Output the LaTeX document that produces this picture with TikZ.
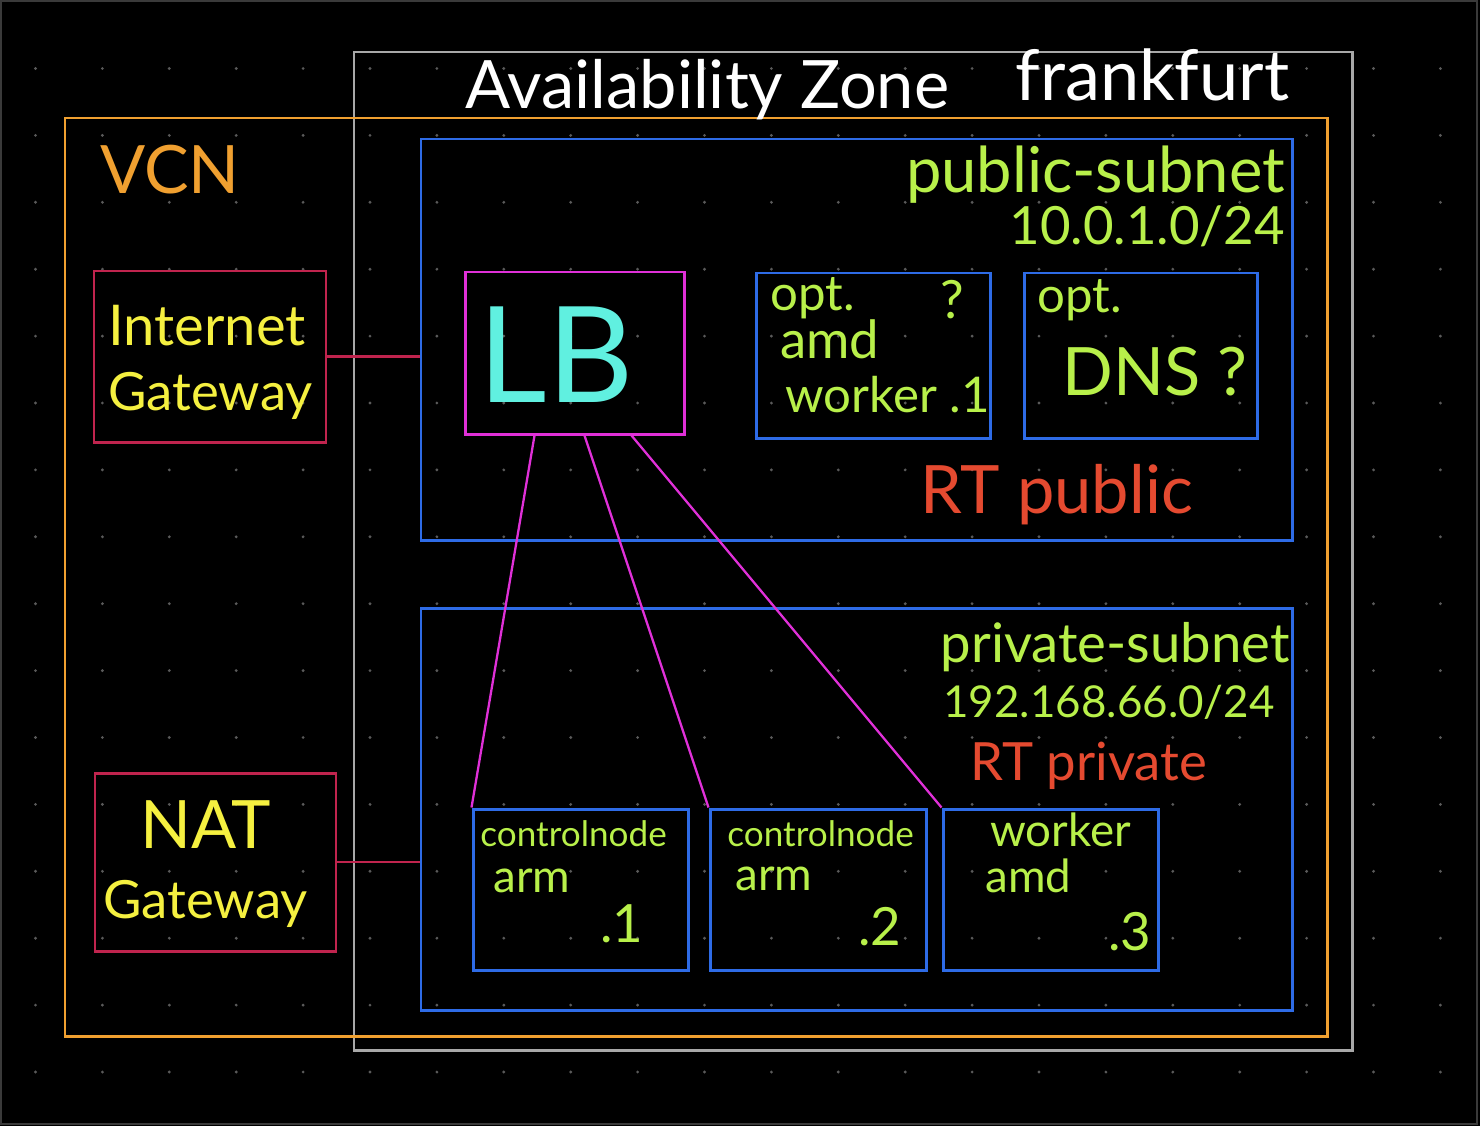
\documentclass[tikz,border=0pt]{standalone}
\usepackage{fontspec}
\setmainfont{Lato}
\usetikzlibrary{fit}
\definecolor{framecol}{HTML}{3A3A3A}
\definecolor{dotcol}{HTML}{5A5A5A}
\definecolor{azcol}{HTML}{A8A8A8}
\definecolor{vcncol}{HTML}{F0A030}
\definecolor{netcol}{HTML}{2E6BE6}
\definecolor{gwcol}{HTML}{C0244E}
\definecolor{lbcol}{HTML}{E030D8}
\definecolor{greencol}{HTML}{B8F04A}
\definecolor{yellowcol}{HTML}{F5F040}
\definecolor{cyancol}{HTML}{60F0E0}
\definecolor{redcol}{HTML}{E54A30}
\newcommand{\hf}[1]{\fontsize{#1}{#1}\selectfont}

\begin{document}
\begin{tikzpicture}[
  x=0.02cm, y=-0.02cm,
  box/.style={draw, line width=1.7pt, inner sep=0pt},
  azbox/.style={box, draw=azcol},
  vcnbox/.style={box, draw=vcncol},
  netbox/.style={box, draw=netcol},
  gwbox/.style={box, draw=gwcol},
  lbbox/.style={box, draw=lbcol},
  link/.style={line width=1.3pt},
  hand/.style={inner sep=0pt, anchor=base west},
  handr/.style={inner sep=0pt, anchor=base east},
  whitetxt/.style={hand, text=white},
  orangetxt/.style={hand, text=vcncol},
  greentxt/.style={hand, text=greencol},
  greentxtr/.style={handr, text=greencol},
  yellowtxt/.style={hand, text=yellowcol},
  redtxt/.style={hand, text=redcol},
]

% canvas
\useasboundingbox (0,0) rectangle (1480,1126);
\fill[black] (0,0) rectangle (1480,1126);
\foreach \i in {0,...,21}
  \foreach \j in {0,...,15}
    \fill[dotcol] ({35.5+66.9*\i},{68.5+66.9*\j}) circle[radius=0.9pt];
\draw[framecol, line width=1.5pt] (1,1) rectangle (1477,1124);

% zone and network
\node[azbox, fit={(354,52) (1352,1050)}] (AZ) {};
\node[vcnbox, fit={(65,118) (1327,1036)}] (VCN) {};
\node[netbox, fit={(421,139) (1292,540)}] (PUB) {};
\node[netbox, fit={(421,608) (1292,1010)}] (PRIV) {};

% gateways
\node[gwbox, fit={(94,271) (326,442)}] (IGW) {};
\node[gwbox, fit={(95,773) (336,951)}] (NAT) {};

% public subnet
\node[lbbox, fit={(465,272) (684,434)}] (LB) {};
\node[netbox, fit={(756,273) (990,438)}] (OPTW) {};
\node[netbox, fit={(1024,273) (1257,438)}] (OPTDNS) {};

% private subnet
\node[netbox, fit={(473,809) (688,970)}] (CP1) {};
\node[netbox, fit={(710,809) (926,970)}] (CP2) {};
\node[netbox, fit={(943,809) (1158,970)}] (WK) {};

% --- links ---
\draw[link, gwcol] (IGW.east) -- (IGW.east -| PUB.west);
\draw[link, gwcol] (NAT.east) -- (NAT.east -| PRIV.west);
\draw[link, lbcol] ([xshift=-0.8cm]LB.south) -- (CP1.north west);
\draw[link, lbcol] ([xshift=0.2cm]LB.south) -- (CP2.north west);
\draw[link, lbcol] ([xshift=1.14cm]LB.south) -- (WK.north west);

% --- labels ---
\node[whitetxt, font=\hf{38}] (azlbl) at (465,108) {Availability Zone};
\node[whitetxt, font=\hf{40}] (frank) at (1015,100) {frankfurt};
\node[orangetxt, font=\hf{38}] (vcnlbl) at (100,193) {VCN};

\node[yellowtxt, font=\hf{32}] (igwa) at (108,345) {Internet};
\node[yellowtxt, font=\hf{30}] (igwb) at (108,410) {Gateway};
\node[yellowtxt, font=\hf{38}] (nata) at (140,848) {NAT};
\node[yellowtxt, font=\hf{30}] (natb) at (103,918) {Gateway};

\node[inner sep=0pt, text=cyancol, font=\hf{76}] (lblbl) at (556,355) {LB};

\node[greentxtr, font=\hf{36}] (puba) at (1285,192) {public-subnet};
\node[greentxtr, font=\hf{30}] (pubb) at (1285,244) {10.0.1.0/24};
\node[redtxt, font=\hf{38}] (rtpub) at (920,513) {RT public};

\node[greentxtr, font=\hf{31}] (priva) at (1290,662) {private-subnet};
\node[greentxtr, font=\hf{25}] (privb) at (1275,717) {192.168.66.0/24};
\node[redtxt, font=\hf{30}] (rtpriv) at (970,780) {RT private};

\node[greentxt, font=\hf{28}] (optwa) at (770,310) {opt.};
\node[greentxt, font=\hf{30}] (optwq) at (940,318) {?};
\node[greentxt, font=\hf{30}] (optwb) at (780,358) {amd};
\node[greentxt, font=\hf{28}] (optwc) at (785,412) {worker .1};

\node[greentxt, font=\hf{28}] (dnsa) at (1037,312) {opt.};
\node[greentxt, font=\hf{38}] (dnsb) at (1062,395) {DNS ?};

\node[greentxt, font=\hf{20}] (cpaa) at (480,846) {controlnode};
\node[greentxt, font=\hf{26}] (cpab) at (493,892) {arm};
\node[greentxt, font=\hf{30}] (cpac) at (600,942) {.1};
\node[greentxt, font=\hf{20}] (cpba) at (727,846) {controlnode};
\node[greentxt, font=\hf{26}] (cpbb) at (735,890) {arm};
\node[greentxt, font=\hf{30}] (cpbc) at (858,945) {.2};
\node[greentxt, font=\hf{26}] (wka) at (990,846) {worker};
\node[greentxt, font=\hf{26}] (wkb) at (985,892) {amd};
\node[greentxt, font=\hf{30}] (wkc) at (1108,950) {.3};

\end{tikzpicture}
\end{document}
